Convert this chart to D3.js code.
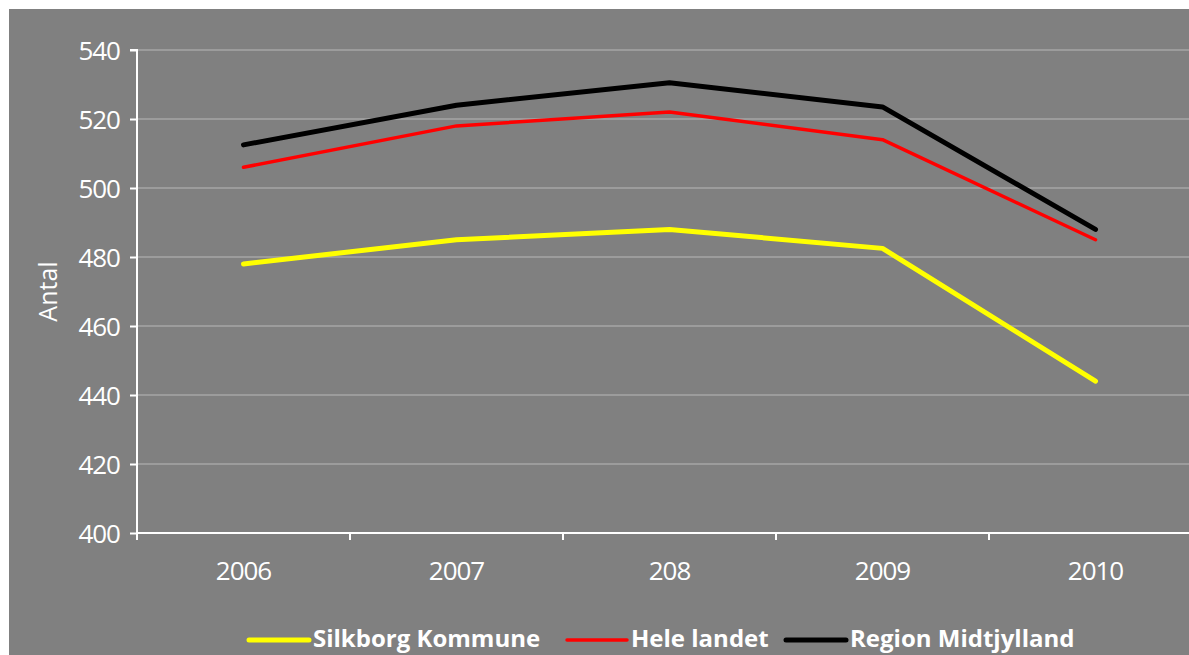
<!DOCTYPE html>
<html>
<head>
<meta charset="utf-8">
<script src="https://cdn.jsdelivr.net/npm/d3@7"></script>
<style>
    body { margin: 0; background: #fff; }
    #chart text { font-family: "Open Sans", sans-serif; fill: #fff; }
</style>
</head>
<body>
<div id="chart"></div>
<script>
let years = ["2006", "2007", "208", "2009", "2010"];
let silkborg = [478, 485, 488, 482.5, 444];
let heleLandet = [506, 518, 522, 514, 485];
let regionMidt = [512.5, 524, 530.5, 523.5, 488];
let yTicks = [400, 420, 440, 460, 480, 500, 520, 540];

let series = [
    {name: "Silkborg Kommune", values: silkborg, color: "#ffff00", width: 5},
    {name: "Hele landet", values: heleLandet, color: "#ff0000", width: 3.5},
    {name: "Region Midtjylland", values: regionMidt, color: "#000000", width: 5}
];

let W = 1189, H = 655;
let margin = {top: 50, left: 137, bottom: 122, right: -13};

let svg = d3.select("#chart")
    .append("svg")
    .attr("width", W)
    .attr("height", H);

svg.append("rect")
    .attr("x", 9).attr("y", 9)
    .attr("width", W - 9).attr("height", H - 9)
    .attr("fill", "#808080");

let x = d3.scaleBand()
    .domain(years)
    .range([margin.left, W - margin.right]);

let y = d3.scaleLinear()
    .domain([400, 540])
    .range([H - margin.bottom, margin.top]);

// gridlines
svg.append("g")
    .selectAll("line")
    .data(yTicks.slice(1))
    .enter()
    .append("line")
    .attr("x1", margin.left)
    .attr("x2", W)
    .attr("y1", d => y(d))
    .attr("y2", d => y(d))
    .attr("stroke", "#9c9c9c")
    .attr("stroke-width", 2);

// y axis
let yAxis = svg.append("g")
    .attr("transform", `translate(${margin.left},0)`)
    .call(d3.axisLeft(y).tickValues(yTicks).tickSize(7).tickPadding(10));
yAxis.selectAll("path, line").attr("stroke", "#fff").attr("stroke-width", 2);
yAxis.select(".domain").attr("d", `M-7,${y(540)}H0V${y(400)}`);
yAxis.selectAll("text")
    .style("font-size", "26px")
    .attr("letter-spacing", "-1px")
    .attr("dy", "0.35em");

// x axis
let xAxis = svg.append("g")
    .attr("transform", `translate(0,${y(400)})`)
    .call(d3.axisBottom(x).tickSize(0).tickPadding(29));
xAxis.select(".domain").attr("d", `M${margin.left},0H${W}`)
    .attr("stroke", "#fff").attr("stroke-width", 2);
xAxis.selectAll("text")
    .style("font-size", "26px")
    .attr("letter-spacing", "-1px");

// category boundary ticks
svg.append("g")
    .selectAll("line")
    .data(years)
    .enter()
    .append("line")
    .attr("x1", d => x(d))
    .attr("x2", d => x(d))
    .attr("y1", y(400))
    .attr("y2", y(400) + 7)
    .attr("stroke", "#fff")
    .attr("stroke-width", 2);

svg.append("text")
    .attr("transform", `translate(57,${(y(400) + y(540)) / 2}) rotate(-90)`)
    .attr("text-anchor", "middle")
    .style("font-size", "25px")
    .text("Antal");

// lines
let line = d3.line()
    .x((d, i) => x(years[i]) + x.bandwidth() / 2)
    .y(d => y(d));

svg.selectAll(".series")
    .data(series)
    .enter()
    .append("path")
    .attr("d", d => line(d.values))
    .attr("fill", "none")
    .attr("stroke", d => d.color)
    .attr("stroke-width", d => d.width)
    .attr("stroke-linecap", "round")
    .attr("stroke-linejoin", "round");

// legend
let legendX = [249, 567, 786];
let legend = svg.append("g");
series.forEach((s, i) => {
    legend.append("line")
        .attr("x1", legendX[i]).attr("x2", legendX[i] + 60)
        .attr("y1", 640).attr("y2", 640)
        .attr("stroke", s.color)
        .attr("stroke-width", s.width)
        .attr("stroke-linecap", "round");
    legend.append("text")
        .attr("x", legendX[i] + 64)
        .attr("y", 647)
        .style("font-size", "24px")
        .style("font-weight", "bold")
        .text(s.name);
});
</script>
</body>
</html>
